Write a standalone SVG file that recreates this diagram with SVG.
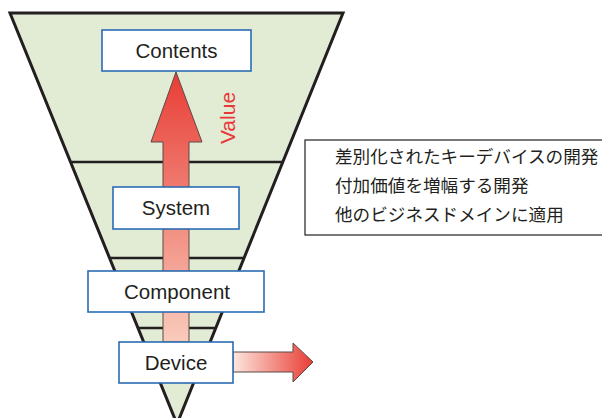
<svg xmlns="http://www.w3.org/2000/svg" width="602" height="418" viewBox="0 0 602 418">
  <style>
    .box { fill: #ffffff; stroke: #2a6cb3; stroke-width: 1.6; }
    .label { font-family: "Liberation Sans", Arial, sans-serif; font-size: 20.5px; fill: #231f20; text-anchor: middle; }
    .tier { stroke: #231f20; stroke-width: 2.5; }
    .note { font-family: "Noto Sans CJK JP", "Noto Sans CJK SC", sans-serif; font-size: 17.6px; fill: #231f20; }
  </style>
  <defs>
    <linearGradient id="upGrad" x1="0" y1="72" x2="0" y2="342" gradientUnits="userSpaceOnUse">
      <stop offset="0" stop-color="#e83d35"/>
      <stop offset="1" stop-color="#f9cbbb"/>
    </linearGradient>
    <linearGradient id="rightGrad" x1="233" y1="0" x2="313" y2="0" gradientUnits="userSpaceOnUse">
      <stop offset="0" stop-color="#fde6de"/>
      <stop offset="1" stop-color="#e83d35"/>
    </linearGradient>
  </defs>

  <!-- value funnel -->
  <g id="funnel">
    <polygon points="10,13 343,13 177,424" fill="#e2ebd4" stroke="#231f20" stroke-width="3" stroke-linejoin="miter"/>
    <line class="tier" x1="71" y1="162" x2="282" y2="162"/>
    <line class="tier" x1="110" y1="258" x2="243" y2="258"/>
    <line class="tier" x1="138" y1="328" x2="215" y2="328"/>
  </g>

  <!-- connectors -->
  <g id="connectors">
    <path d="M176,72 L202,142 L189,142 L189,342 L163,342 L163,142 L151,142 Z" fill="url(#upGrad)" stroke="#5a4a46" stroke-width="1"/>
    <path d="M233,352 L293,352 L293,343 L313,362 L293,382 L293,372 L233,372 Z" fill="url(#rightGrad)" stroke="#5a4a46" stroke-width="1"/>
    <text x="227" y="118" transform="rotate(-90 227 118)" font-family="Liberation Sans, Arial, sans-serif" font-size="21px" fill="#e8383a" text-anchor="middle" dominant-baseline="central">Value</text>
  </g>

  <g id="contents">
    <rect class="box" x="102" y="30" width="149" height="41"/>
    <text class="label" x="176.5" y="58">Contents</text>
  </g>
  <g id="system">
    <rect class="box" x="113" y="187" width="126" height="42"/>
    <text class="label" x="176" y="215">System</text>
  </g>
  <g id="component">
    <rect class="box" x="88" y="271" width="176" height="41"/>
    <text class="label" x="177" y="299">Component</text>
  </g>
  <g id="device">
    <rect class="box" x="119" y="342" width="114" height="41"/>
    <text class="label" x="176" y="370">Device</text>
  </g>

  <g id="notes">
    <rect x="305" y="140" width="300" height="95" fill="#ffffff" stroke="#231f20" stroke-width="1.2"/>
    <text class="note" x="335" y="163">差別化されたキーデバイスの開発</text>
    <text class="note" x="335" y="192">付加価値を増幅する開発</text>
    <text class="note" x="335" y="221">他のビジネスドメインに適用</text>
  </g>
</svg>
